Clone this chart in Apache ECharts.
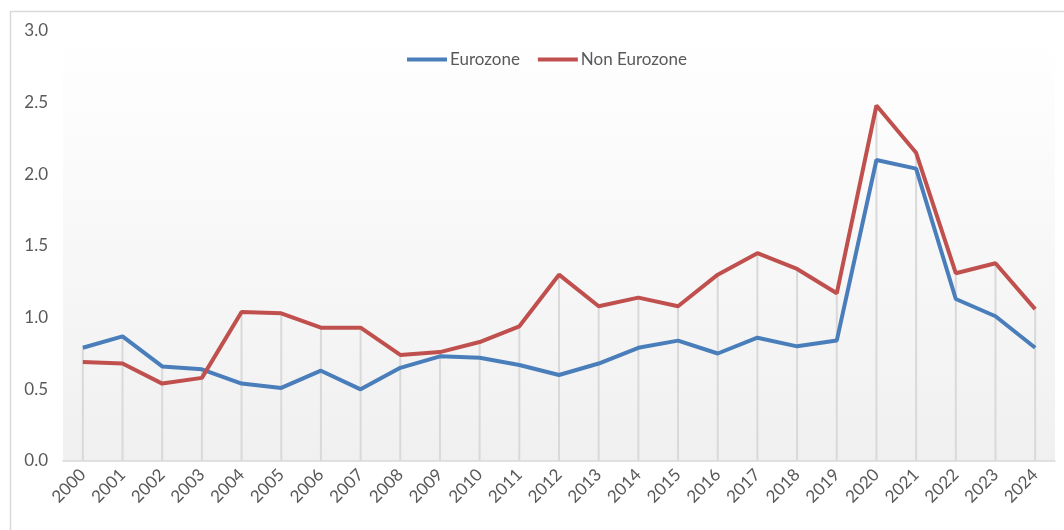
<!DOCTYPE html>
<html>
<head>
<meta charset="utf-8">
<script src="https://cdn.jsdelivr.net/npm/echarts@6/dist/echarts.min.js"></script>
<style>
html,body{margin:0;padding:0;background:#fff;}
#chart{width:1064px;height:530px;}
</style>
</head>
<body>
<div id="chart"></div>
<script>
const years = ['2000','2001','2002','2003','2004','2005','2006','2007','2008','2009','2010','2011','2012','2013','2014','2015','2016','2017','2018','2019','2020','2021','2022','2023','2024'];
const eurozone = [0.79,0.87,0.66,0.64,0.54,0.51,0.63,0.50,0.65,0.73,0.72,0.67,0.60,0.68,0.79,0.84,0.75,0.86,0.80,0.84,2.10,2.04,1.13,1.01,0.79];
const nonEurozone = [0.69,0.68,0.54,0.58,1.04,1.03,0.93,0.93,0.74,0.76,0.83,0.94,1.30,1.08,1.14,1.08,1.30,1.45,1.34,1.17,2.48,2.15,1.31,1.38,1.06];
const yTicks = ['0.0','0.5','1.0','1.5','2.0','2.5','3.0'];

const dropTop = eurozone.map((v, i) => Math.max(v, nonEurozone[i]));
const txt = '#595959';
const font = 'Lato, "Open Sans", sans-serif';

const chart = echarts.init(document.getElementById('chart'), null, {renderer: 'canvas'});
chart.setOption({
  animation: false,
  backgroundColor: '#fff',
  textStyle: {fontFamily: font},
  graphic: [{
    type: 'rect', left: 8, top: 9, silent: true,
    shape: {width: 1100, height: 600},
    style: {fill: 'none', stroke: '#d9d9d9', lineWidth: 1.5},
    z: -10
  }],
  legend: {
    data: ['Eurozone', 'Non Eurozone'],
    top: 46, left: 402,
    itemWidth: 40, itemHeight: 4, itemGap: 18,
    icon: 'rect',
    textStyle: {color: txt, fontSize: 17, fontFamily: font, padding: [0, 0, 0, -2]}
  },
  grid: {
    left: 63, right: 9, top: 31, bottom: 69,
    show: true, borderWidth: 0,
    backgroundColor: new echarts.graphic.LinearGradient(0, 0, 0, 1, [
      {offset: 0, color: '#ffffff'},
      {offset: 1, color: '#f0f0f0'}
    ])
  },
  xAxis: {
    type: 'category', data: years, boundaryGap: true,
    axisLine: {lineStyle: {color: '#d9d9d9', width: 1.5}},
    axisTick: {show: false},
    axisLabel: {color: txt, fontSize: 17, rotate: 45, margin: 11, fontFamily: font, interval: 0}
  },
  yAxis: {
    type: 'value', min: 0, max: 3, interval: 0.5,
    axisLine: {show: false}, axisTick: {show: false},
    splitLine: {show: false},
    axisLabel: {color: txt, fontSize: 17, margin: 15, fontFamily: font,
      formatter: v => yTicks[Math.round(v / 0.5)]}
  },
  series: [
    {
      name: 'drop', type: 'bar', data: dropTop, barWidth: 2,
      itemStyle: {color: '#d9d9d9'}, silent: true, z: 1
    },
    {
      name: 'Eurozone', type: 'line', data: eurozone, symbol: 'none',
      lineStyle: {color: '#4a7ebb', width: 4}, itemStyle: {color: '#4a7ebb'}, z: 3
    },
    {
      name: 'Non Eurozone', type: 'line', data: nonEurozone, symbol: 'none',
      lineStyle: {color: '#c0504d', width: 4}, itemStyle: {color: '#c0504d'}, z: 3
    }
  ]
});
</script>
</body>
</html>
